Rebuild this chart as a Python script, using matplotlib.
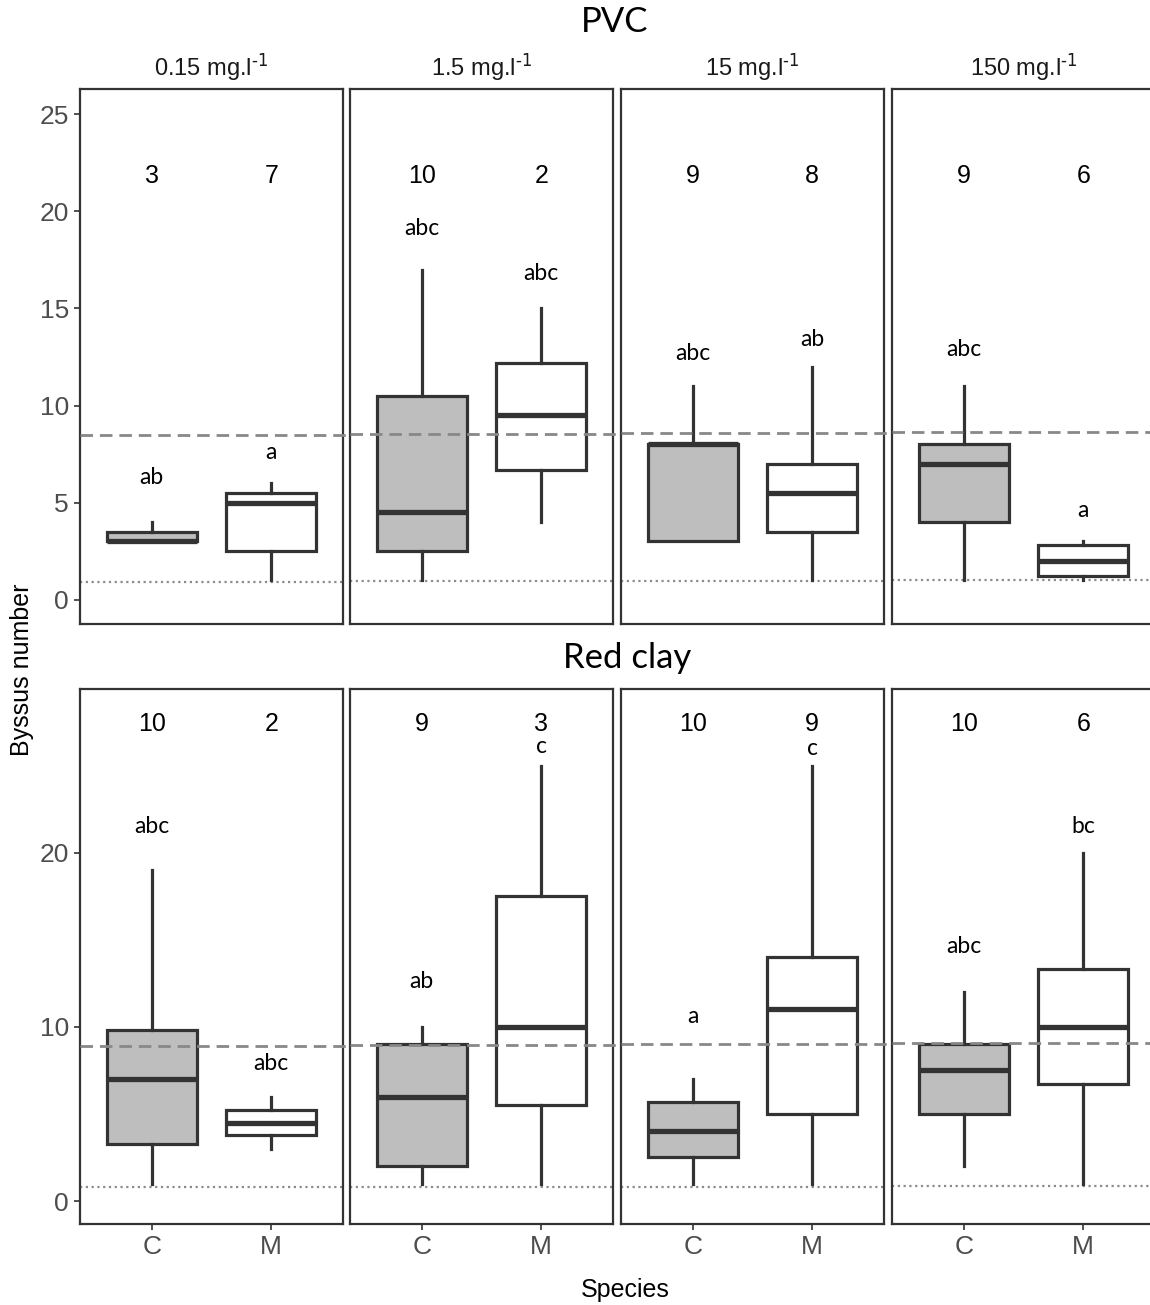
import matplotlib
matplotlib.use('Agg')
import matplotlib.pyplot as plt

plt.rcParams['font.family'] = ['Liberation Sans', 'DejaVu Sans']
plt.rcParams['mathtext.default'] = 'regular'

# facets and groups
concs = [r"0.15 mg.l$^{\text{-1}}$", r"1.5 mg.l$^{\text{-1}}$",
         r"15 mg.l$^{\text{-1}}$", r"150 mg.l$^{\text{-1}}$"]
species = ["C", "M"]
rows = ["PVC", "Red clay"]

# box stats per row, per concentration, [C, M]: (whislo, q1, med, q3, whishi)
pvc_stats = [
    [(3, 3, 3, 3.5, 4), (1, 2.5, 5, 5.5, 6)],
    [(1, 2.5, 4.5, 10.5, 17), (4, 6.7, 9.5, 12.2, 15)],
    [(3, 3, 8, 8, 11), (1, 3.5, 5.5, 7, 12)],
    [(1, 4, 7, 8, 11), (1, 1.2, 2, 2.8, 3)],
]
clay_stats = [
    [(1, 3.3, 7, 9.8, 19), (3, 3.8, 4.5, 5.2, 6)],
    [(1, 2, 6, 9, 10), (1, 5.5, 10, 17.5, 25)],
    [(1, 2.5, 4, 5.7, 7), (1, 5, 11, 14, 25)],
    [(2, 5, 7.5, 9, 12), (1, 6.7, 10, 13.3, 20)],
]

# sample sizes
pvc_n = [[3, 7], [10, 2], [9, 8], [9, 6]]
clay_n = [[10, 2], [9, 3], [10, 9], [10, 6]]

# post-hoc letters and their heights
pvc_letters = [["ab", "a"], ["abc", "abc"], ["abc", "ab"], ["abc", "a"]]
pvc_letter_y = [[6.3, 7.6], [19.1, 16.8], [12.7, 13.4], [12.9, 4.6]]
clay_letters = [["abc", "abc"], ["ab", "c"], ["a", "c"], ["abc", "bc"]]
clay_letter_y = [[21.5, 7.9], [12.6, 26.1], [10.6, 26.0], [14.6, 21.5]]

# reference lines
pvc_dash = [8.5, 8.55, 8.6, 8.65]
pvc_dot = [0.93, 0.96, 0.97, 1.0]
clay_dash = [8.9, 8.95, 9.0, 9.05]
clay_dot = [0.8, 0.83, 0.83, 0.85]

W, H = 1150, 1305
fig = plt.figure(figsize=(W / 100, H / 100), dpi=100)

lefts = [80, 350, 621, 892]
pw = 263
row_px = [(89, 624), (689, 1224)]
ylims = [(-1.25, 26.3), (-1.32, 29.4)]
yticks = [[0, 5, 10, 15, 20, 25], [0, 10, 20]]
n_y = [21.8, 27.4]

all_stats = [pvc_stats, clay_stats]
all_n = [pvc_n, clay_n]
all_letters = [pvc_letters, clay_letters]
all_letter_y = [pvc_letter_y, clay_letter_y]
all_dash = [pvc_dash, clay_dash]
all_dot = [pvc_dot, clay_dot]

edge = '#333333'
fills = ['#BEBEBE', 'white']

for r in range(2):
    top, bot = row_px[r]
    for c in range(4):
        ax = fig.add_axes([lefts[c] / W, 1 - bot / H, pw / W, (bot - top) / H])
        stats = []
        for k, s in enumerate(all_stats[r][c]):
            stats.append(dict(whislo=s[0], q1=s[1], med=s[2], q3=s[3], whishi=s[4], fliers=[]))
        # reference lines under boxes
        ax.plot([0, 1], [all_dot[r][c]] * 2, transform=ax.get_yaxis_transform(),
                color='#8C8C8C', lw=1.6, linestyle=(0, (1, 1.6)), zorder=1)
        bp = ax.bxp(stats, positions=[1, 2], widths=0.75, patch_artist=True,
                    showcaps=False, showfliers=False,
                    boxprops=dict(edgecolor=edge, linewidth=2.3),
                    whiskerprops=dict(color=edge, linewidth=2.3),
                    medianprops=dict(color=edge, linewidth=3.8, solid_capstyle='butt'),
                    zorder=2)
        for patch, fc in zip(bp['boxes'], fills):
            patch.set_facecolor(fc)
        ax.plot([0, 1.027], [all_dash[r][c]] * 2, transform=ax.get_yaxis_transform(),
                color='#888888', lw=2.0, linestyle=(0, (4.5, 2.5)), zorder=3, clip_on=False)

        for k in range(2):
            ax.text(k + 1, n_y[r], str(all_n[r][c][k]), ha='center', va='center',
                    fontsize=18, color='black')
            ax.text(k + 1, all_letter_y[r][c][k], all_letters[r][c][k], ha='center',
                    va='center', fontsize=16.5, color='black', family=['Lato', 'DejaVu Sans'])

        ax.set_xlim(0.4, 2.6)
        ax.set_ylim(*ylims[r])
        for sp in ax.spines.values():
            sp.set_color(edge)
            sp.set_linewidth(1.6)
        if c == 3:
            ax.spines['right'].set_visible(False)
        ax.set_yticks(yticks[r])
        ax.set_xticks([1, 2])
        ax.tick_params(axis='both', length=4, width=1.2, color=edge,
                       labelsize=19, labelcolor='#4D4D4D', pad=4)
        if c == 0:
            ax.set_yticklabels([str(v) for v in yticks[r]])
        else:
            ax.tick_params(axis='y', left=False, labelleft=False)
        if r == 1:
            ax.set_xticklabels(species)
        else:
            ax.tick_params(axis='x', bottom=False, labelbottom=False)
        if r == 0:
            ax.set_title(concs[c], fontsize=17, pad=10, color='#1A1A1A')

fig.text(615 / W, 1 - 22 / H, rows[0], ha='center', va='center', fontsize=25,
         family=['Lato', 'DejaVu Sans'])
fig.text(627 / W, 1 - 658 / H, rows[1], ha='center', va='center', fontsize=25,
         family=['Lato', 'DejaVu Sans'])
fig.text(22 / W, 1 - 670 / H, "Byssus number", rotation=90, ha='center', va='center',
         fontsize=18)
fig.text(625 / W, 1 - 1290 / H, "Species", ha='center', va='center', fontsize=18)

fig.savefig('out.png', dpi=100, facecolor='white')
